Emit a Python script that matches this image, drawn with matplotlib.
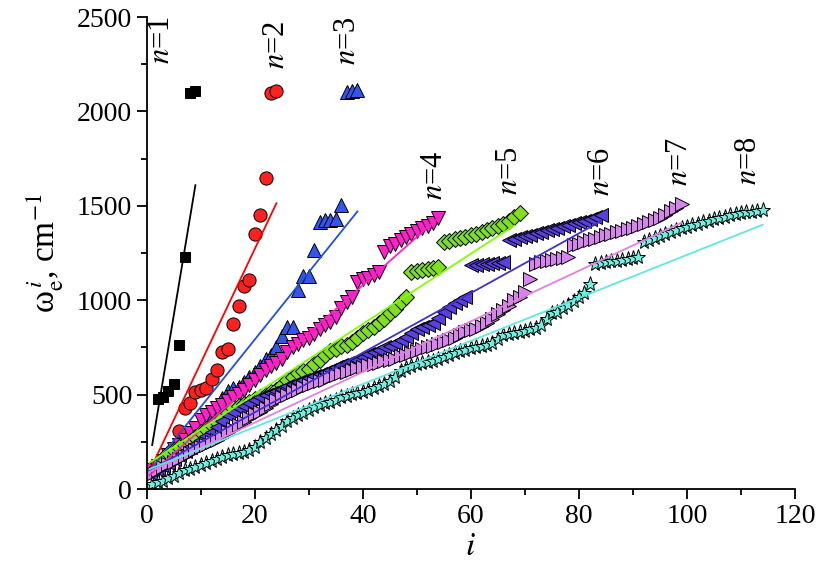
import matplotlib
matplotlib.use("Agg")
import matplotlib.pyplot as plt
import numpy as np
from matplotlib.ticker import MultipleLocator

plt.rcParams['font.family'] = ['Liberation Serif', 'DejaVu Serif']
plt.rcParams['mathtext.fontset'] = 'stix'

# ---- data: index i and frequency values for each n ----
i1 = [1, 2, 3, 4, 5, 6, 7, 8, 9]
w1 = [110, 475, 485, 520, 555, 765, 1230, 2100, 2110]

i2 = [1, 6, 7, 8, 9, 10, 11, 12, 13, 14, 15, 16, 17, 18, 19, 20, 21, 22, 23, 24]
w2 = [100, 305, 427, 453, 515, 524, 533, 582, 630, 726, 739, 873, 968, 1074, 1109,
      1353, 1450, 1647, 2100, 2106]

i3 = list(range(1, 40))
w3 = [95, 120, 150, 180, 205, 225, 245, 260, 270, 285, 330, 380, 430, 480, 520,
      535, 541, 568, 595, 620, 650, 690, 710, 753, 810, 859, 859, 1053, 1127, 1127,
      1265, 1414, 1423, 1423, 1432, 1506, 2105, 2110, 2115]

i4 = list(range(1, 55))
w4 = [100, 120, 150, 180, 210, 233, 259, 295, 321, 365, 392, 410, 427, 445, 465,
      485, 505, 524, 550, 580, 605, 630, 650, 670, 690, 725, 750, 770, 788, 800,
      820, 845, 870, 885, 910, 960, 990, 1018, 1097, 1110, 1120, 1135, 1150, 1256,
      1285, 1300, 1320, 1335, 1350, 1365, 1380, 1395, 1410, 1436]

i5 = list(range(1, 70))
w5 = [90, 136, 160, 189, 205, 220, 233, 255, 278, 303, 320, 339, 355, 374, 400,
      427, 440, 452, 462, 475, 489, 500, 512, 524, 550, 577, 595, 612, 625, 638,
      660, 683, 710, 730, 744, 755, 765, 780, 800, 824, 840, 859, 880, 903, 930,
      955, 990, 1018, 1150, 1155, 1160, 1165, 1170, 1176, 1308, 1315, 1322, 1330,
      1337, 1345, 1352, 1360, 1370, 1385, 1395, 1405, 1420, 1440, 1460]

i6 = list(range(1, 85))
w6 = [80, 100, 120, 140, 160, 180, 200, 220, 240, 260, 280, 300, 330, 360, 390,
      410, 427, 440, 455, 470, 485, 500, 510, 520, 530, 545, 555, 565, 577, 590,
      600, 610, 620, 630, 645, 656, 665, 675, 685, 700, 715, 725, 735, 750, 760,
      771, 790, 806, 825, 845, 860, 870, 880, 905, 940, 965, 983, 1000, 1018, 1185,
      1188, 1190, 1193, 1195, 1198, 1200, 1317, 1325, 1333, 1340, 1348, 1355, 1362,
      1370, 1378, 1385, 1393, 1400, 1408, 1415, 1422, 1430, 1440, 1450]

i7 = list(range(1, 100))
w7 = [80, 100, 115, 130, 145, 160, 175, 190, 206, 220, 235, 250, 262, 277, 300,
      320, 340, 355, 374, 395, 410, 430, 450, 471, 485, 500, 515, 525, 540, 550,
      559, 570, 580, 592, 602, 612, 620, 630, 640, 647, 655, 662, 670, 677, 683,
      690, 705, 712, 718, 730, 740, 753, 760, 770, 780, 788, 800, 815, 830, 841,
      850, 862, 877, 900, 925, 947, 970, 1000, 1015, 1044, 1115, 1194, 1200, 1206,
      1212, 1218, 1224, 1229, 1290, 1300, 1308, 1318, 1326, 1335, 1343, 1352, 1360,
      1368, 1377, 1385, 1395, 1405, 1415, 1425, 1438, 1450, 1470, 1490, 1510]

i8 = list(range(1, 115))
w8 = [25, 35, 45, 60, 70, 85, 100, 108, 118, 128, 138, 148, 160, 171, 178, 185,
      192, 198, 206, 225, 250, 270, 290, 312, 335, 360, 375, 390, 400, 418, 435,
      445, 455, 462, 472, 489, 495, 502, 506, 515, 524, 535, 545, 555, 570, 594,
      625, 640, 650, 660, 667, 675, 680, 690, 700, 712, 720, 730, 738, 745, 752,
      758, 765, 775, 795, 815, 820, 825, 830, 838, 845, 855, 868, 900, 930, 940,
      960, 975, 995, 1018, 1040, 1088, 1194, 1198, 1202, 1206, 1210, 1214, 1218,
      1223, 1229, 1308, 1318, 1330, 1340, 1350, 1360, 1370, 1380, 1390, 1398, 1405,
      1413, 1420, 1428, 1435, 1442, 1450, 1455, 1460, 1465, 1468, 1472, 1476]

# linear fits: intercept, slope, x-range
fit_a = [61, 64, 78, 60, 130, 90, 84, 100]
fit_b = [172, 60.4, 35.7, 25.5, 18.6, 15.8, 13.4, 11.4]
fit_x0 = [1, 0.5, 0.5, 0.5, 0.5, 0.5, 0.5, 0.5]
fit_x1 = [9, 24, 39, 54, 68, 84, 99, 114]

labels = ['1', '2', '3', '4', '5', '6', '7', '8']
label_x = [2.8, 24, 37.2, 53.3, 67.2, 84.2, 98.7, 111.4]
label_y = [2376, 2350, 2376, 1661, 1688, 1679, 1732, 1741]

series_i = [i1, i2, i3, i4, i5, i6, i7, i8]
series_w = [w1, w2, w3, w4, w5, w6, w7, w8]
markers = ['s', 'o', '^', 'v', 'D', '<', '>', '*']
msizes = [7, 9.5, 10, 10, 8, 10, 10, 11]
mcolors = ['#000000', '#ff2020', '#3355ee', '#ff22cc', '#80e020', '#5a40e0',
           '#d884ee', '#70f0e0']
lcolors = ['#000000', '#ff0000', '#2050e0', '#ff20c0', '#80ff00', '#4030d0',
           '#e080e0', '#60e8e0']

fig = plt.figure(figsize=(8.2, 5.77), dpi=100)
ax = fig.add_axes([0.179, 0.1525, 0.7905, 0.818])

for k in range(8):
    ax.plot(series_i[k], series_w[k], linestyle='none', marker=markers[k],
            markersize=msizes[k], markerfacecolor=mcolors[k],
            markeredgecolor='black', markeredgewidth=0.7, zorder=2 + k * 0.01)

for k in range(8):
    xs = np.array([fit_x0[k], fit_x1[k]])
    ax.plot(xs, fit_a[k] + fit_b[k] * xs, color=lcolors[k], lw=1.3, zorder=3)

for k in range(8):
    ax.text(label_x[k], label_y[k], r'$n$=' + labels[k], rotation=90,
            fontsize=22, ha='center', va='center')

ax.set_xlim(0, 120)
ax.set_ylim(0, 2500)
ax.xaxis.set_major_locator(MultipleLocator(20))
ax.xaxis.set_minor_locator(MultipleLocator(10))
ax.yaxis.set_major_locator(MultipleLocator(500))
ax.yaxis.set_minor_locator(MultipleLocator(250))
ax.spines['top'].set_visible(False)
ax.spines['right'].set_visible(False)
ax.spines['left'].set_linewidth(1.3)
ax.spines['bottom'].set_linewidth(1.3)
ax.tick_params(which='major', direction='out', length=7, width=1.3, labelsize=20)
ax.tick_params(which='minor', direction='out', length=4, width=1.3)

ax.set_xlabel(r'$i$', fontsize=24, labelpad=2)
ax.set_ylabel('ω$_{\\rm e}^{\\,i}$, cm$^{-1}$', fontsize=24, labelpad=8)

fig.savefig('out.png', dpi=100)
